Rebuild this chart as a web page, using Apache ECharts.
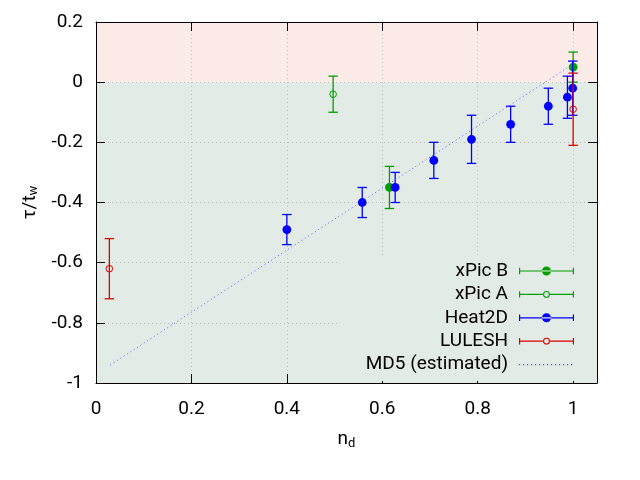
<!DOCTYPE html>
<html><head><meta charset="utf-8">
<script src="https://cdn.jsdelivr.net/npm/echarts@6/dist/echarts.min.js"></script>
<style>html,body{margin:0;padding:0;background:#fff}#c{width:640px;height:480px}</style>
</head><body><div id="c"></div>
<script>
// ---- data ----
const xpicB_x = [0.615, 1.0];
const xpicB_y = [-0.35, 0.05];
const xpicB_err = [0.07, 0.05];

const xpicA_x = [0.497];
const xpicA_y = [-0.04];
const xpicA_err = [0.06];

const heat_x = [0.400, 0.558, 0.627, 0.708, 0.787, 0.869, 0.948, 0.988, 0.999];
const heat_y = [-0.49, -0.40, -0.35, -0.26, -0.19, -0.14, -0.08, -0.05, -0.02];
const heat_err = [0.05, 0.05, 0.05, 0.06, 0.08, 0.06, 0.06, 0.07, 0.09];

const lulesh_x = [0.028, 1.0];
const lulesh_y = [-0.62, -0.09];
const lulesh_err = [0.10, 0.12];

const md5_x = [0.03, 0.99];
const md5_y = [-0.94, 0.05];

const xTicks = [0, 0.2, 0.4, 0.6, 0.8, 1];
const yTicks = [-1, -0.8, -0.6, -0.4, -0.2, 0, 0.2];

// ---- styling ----
const FONT = 'Roboto';
const FS = 19;
const GREEN = '#00a000', BLUE = '#0000ff', RED = '#dd0000', MDCOL = '#5050ff';

function pack(xs, ys, es) { return xs.map((x, i) => [x, ys[i], es[i]]); }

function errRender(filled) {
  return function (params, api) {
    const x = api.value(0), y = api.value(1), e = api.value(2);
    const t = api.coord([x, y + e]), b = api.coord([x, y - e]), c = api.coord([x, y]);
    const col = api.visual('color');
    const hw = 4.7, lw = 1.3;
    const ls = { stroke: col, lineWidth: lw };
    return {
      type: 'group',
      children: [
        { type: 'line', shape: { x1: t[0], y1: t[1], x2: b[0], y2: b[1] }, style: ls },
        { type: 'line', shape: { x1: t[0] - hw, y1: t[1], x2: t[0] + hw, y2: t[1] }, style: ls },
        { type: 'line', shape: { x1: b[0] - hw, y1: b[1], x2: b[0] + hw, y2: b[1] }, style: ls },
        { type: 'circle', shape: { cx: c[0], cy: c[1], r: filled ? 4.4 : 3.3 },
          style: filled ? { fill: col } : { fill: 'none', stroke: col, lineWidth: 1 } }
      ]
    };
  };
}

const iconFilled = 'path://M0,1.8h1.2v6.4h-1.2z M53.8,1.8h1.2v6.4h-1.2z M0,4.4h55v1.2h-55z M27.5,5m-4.5,0a4.5,4.5 0 1,0 9,0a4.5,4.5 0 1,0 -9,0z M27.5,0.5v0.01z';
const iconOpen = 'path://M0,1.8h1.2v6.4h-1.2z M53.8,1.8h1.2v6.4h-1.2z M0,4.4h24.1v1.2h-24.1z M30.9,4.4h24.1v1.2h-24.1z M24.1,5a3.4,3.4 0 1,0 6.8,0a3.4,3.4 0 1,0 -6.8,0z M25.1,5a2.4,2.4 0 1,1 4.8,0a2.4,2.4 0 1,1 -4.8,0z M27.5,0.5h0.01v0.01z M27.5,9.5h0.01v0.01z';
let iconDots = 'path://M0,0h0.01v0.01h-0.01z M0,9.99h0.01v0.01h-0.01z';
for (let k = 0; k <= 13; k++) { iconDots += ' M' + (k * 4) + ',4.4h1.2v1.2h-1.2z'; }
iconDots += ' M55,0h0.01v0.01h-0.01z';

const option = {
  animation: false,
  backgroundColor: '#ffffff',
  textStyle: { fontFamily: FONT },
  grid: { left: 96, right: 43, top: 22, bottom: 97 },
  legend: {
    orient: 'vertical', align: 'right',
    right: 43, top: 255,
    itemWidth: 55, itemHeight: 10, itemGap: 4.4,
    backgroundColor: '#e2ebe5',
    padding: [6.5, 23, 7, 26],
    textStyle: { fontFamily: FONT, fontSize: FS, color: '#000', lineHeight: 16, padding: [0, 6, 0, 0] },
    data: [
      { name: 'xPic B', icon: iconFilled },
      { name: 'xPic A', icon: iconOpen },
      { name: 'Heat2D', icon: iconFilled },
      { name: 'LULESH', icon: iconOpen },
      { name: 'MD5 (estimated)', icon: iconDots }
    ]
  },
  xAxis: [
    {
      type: 'value', min: 0, max: 1.05, interval: 0.2,
      name: '{a|n}{b|d}', nameLocation: 'middle', nameGap: 46,
      nameTextStyle: { rich: { a: { fontSize: FS, fontFamily: FONT, color: '#000' }, b: { fontSize: 13, fontFamily: FONT, color: '#000', padding: [8, 0, 0, 0] } } },
      axisLine: { show: true, onZero: false, lineStyle: { color: '#000', width: 1 } },
      axisTick: { show: true, inside: true, length: 9, lineStyle: { color: '#000' } },
      axisLabel: { show: true, fontSize: FS, color: '#000', margin: 17, showMaxLabel: false,
        formatter: v => xTicks.includes(Math.round(v * 100) / 100) ? String(Math.round(v * 100) / 100) : '' },
      splitLine: { show: true, lineStyle: { color: '#bdbdbd', type: [1, 3], width: 1 } }
    },
    {
      type: 'value', position: 'top', min: 0, max: 1.05, interval: 0.2,
      axisLine: { show: true, onZero: false, lineStyle: { color: '#000', width: 1 } },
      axisTick: { show: true, inside: true, length: 9, lineStyle: { color: '#000' } },
      axisLabel: { show: false }, splitLine: { show: false }
    }
  ],
  yAxis: [
    {
      type: 'value', min: -1, max: 0.2, interval: 0.2,
      name: '{a|τ/t}{b|w}', nameLocation: 'middle', nameGap: 55, nameRotate: 90,
      nameTextStyle: { rich: { a: { fontSize: FS, fontFamily: FONT, color: '#000' }, b: { fontSize: 13, fontFamily: FONT, color: '#000', padding: [8, 0, 0, 0] } } },
      axisLine: { show: true, onZero: false, lineStyle: { color: '#000', width: 1 } },
      axisTick: { show: true, inside: true, length: 9, lineStyle: { color: '#000' } },
      axisLabel: { show: true, fontSize: FS, color: '#000', margin: 13,
        formatter: v => String(Math.round(v * 10) / 10) },
      splitLine: { show: true, lineStyle: { color: '#bdbdbd', type: [1, 3], width: 1 } }
    },
    {
      type: 'value', position: 'right', min: -1, max: 0.2, interval: 0.2,
      axisLine: { show: true, onZero: false, lineStyle: { color: '#000', width: 1 } },
      axisTick: { show: true, inside: true, length: 9, lineStyle: { color: '#000' } },
      axisLabel: { show: false }, splitLine: { show: false }
    }
  ],
  series: [
    {
      name: 'bg', type: 'line', data: [], silent: true,
      markArea: {
        silent: true, z: -1,
        itemStyle: { borderWidth: 0 },
        data: [
          [{ xAxis: 0, yAxis: 0, itemStyle: { color: '#fcebe9' } }, { xAxis: 1.05, yAxis: 0.2 }],
          [{ xAxis: 0, yAxis: -1, itemStyle: { color: '#e2ebe5' } }, { xAxis: 1.05, yAxis: 0 }]
        ]
      }
    },
    {
      name: 'MD5 (estimated)', type: 'line', showSymbol: false, symbol: 'none',
      data: md5_x.map((x, i) => [x, md5_y[i]]),
      itemStyle: { color: MDCOL },
      lineStyle: { color: MDCOL, width: 1, type: [1, 3], opacity: 0.9 }
    },
    { name: 'xPic B', type: 'custom', renderItem: errRender(true), itemStyle: { color: GREEN },
      encode: { x: 0, y: 1 }, data: pack(xpicB_x, xpicB_y, xpicB_err) },
    { name: 'xPic A', type: 'custom', renderItem: errRender(false), itemStyle: { color: GREEN },
      encode: { x: 0, y: 1 }, data: pack(xpicA_x, xpicA_y, xpicA_err) },
    { name: 'Heat2D', type: 'custom', renderItem: errRender(true), itemStyle: { color: BLUE },
      encode: { x: 0, y: 1 }, data: pack(heat_x, heat_y, heat_err) },
    { name: 'LULESH', type: 'custom', renderItem: errRender(false), itemStyle: { color: RED },
      encode: { x: 0, y: 1 }, data: pack(lulesh_x, lulesh_y, lulesh_err) }
  ]
};

const chart = echarts.init(document.getElementById('c'), null, { renderer: 'canvas' });
chart.setOption(option);
</script>
</body></html>
